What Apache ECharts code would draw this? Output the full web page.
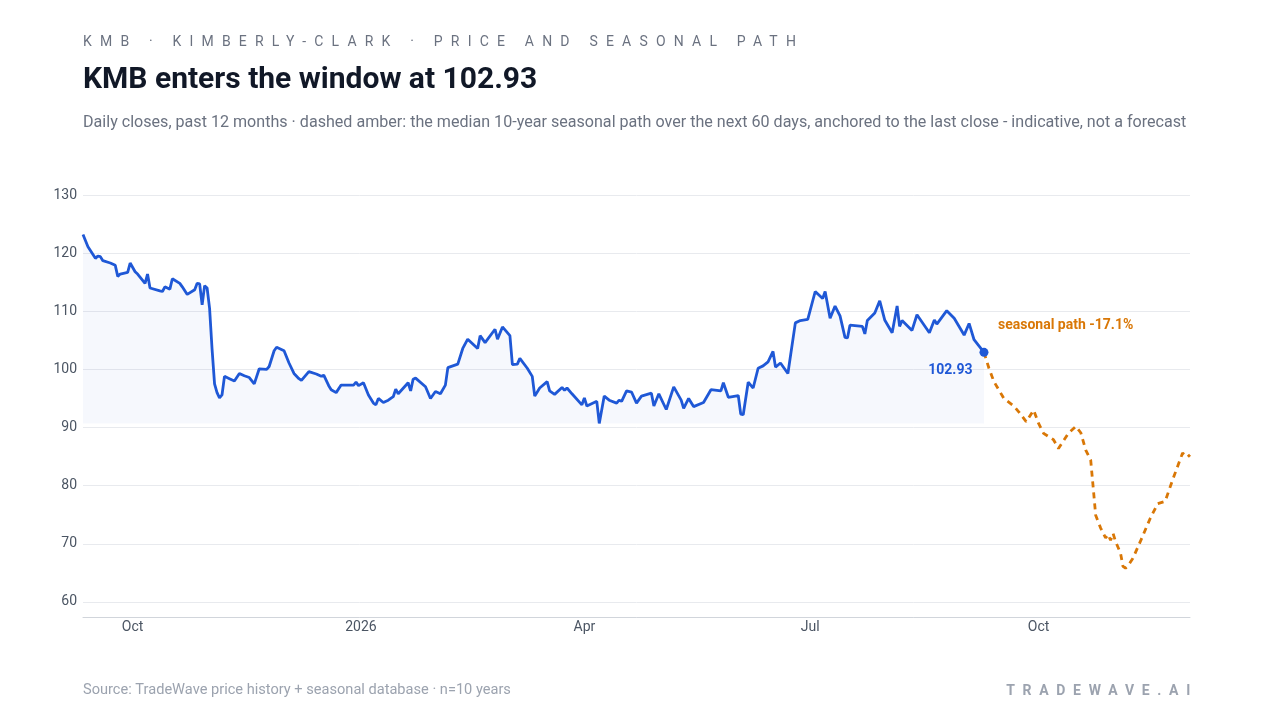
<!DOCTYPE html>
<html>
<head>
<meta charset="utf-8">
<title>KMB price and seasonal path</title>
<script src="https://cdn.jsdelivr.net/npm/echarts@6/dist/echarts.min.js"></script>
<style>
  html, body { margin: 0; padding: 0; background: #fff; }
  #wrap { position: relative; width: 1280px; height: 720px; }
  #chart { position: absolute; left: 0; top: 0; width: 1280px; height: 720px; }
  .spaced { position: absolute; font-family: Roboto, sans-serif; font-size: 14px; line-height: 14px;
            white-space: nowrap; }
  #kicker { left: 83px; top: 34px; color: #6b7280; letter-spacing: 8.2px; }
  #brand { right: 82px; top: 683px; color: #9ca3af; font-weight: 700; letter-spacing: 7.7px; }
</style>
</head>
<body>
<div id="wrap">
  <div id="chart"></div>
  <div id="kicker" class="spaced">KMB · KIMBERLY-CLARK · PRICE AND SEASONAL PATH</div>
  <div id="brand" class="spaced">TRADEWAVE.AI</div>
</div>
<script>
// ─── data ────────────────────────────────────────────────────────────────────
const priceDates = [
  '2025-09-11','2025-09-13','2025-09-16','2025-09-17','2025-09-18','2025-09-19','2025-09-22','2025-09-24',
  '2025-09-25','2025-09-26','2025-09-29','2025-09-30','2025-10-02','2025-10-03','2025-10-06','2025-10-07',
  '2025-10-08','2025-10-12','2025-10-13','2025-10-14','2025-10-16','2025-10-17','2025-10-20','2025-10-21',
  '2025-10-23','2025-10-26','2025-10-27','2025-10-28','2025-10-29','2025-10-30','2025-10-31','2025-11-01',
  '2025-11-02','2025-11-03','2025-11-04','2025-11-05','2025-11-06','2025-11-07','2025-11-09','2025-11-11',
  '2025-11-13','2025-11-15','2025-11-17','2025-11-19','2025-11-21','2025-11-24','2025-11-25','2025-11-27',
  '2025-11-28','2025-12-01','2025-12-03','2025-12-05','2025-12-07','2025-12-08','2025-12-11','2025-12-14',
  '2025-12-16','2025-12-17','2025-12-19','2025-12-20','2025-12-22','2025-12-24','2025-12-29','2025-12-30',
  '2025-12-31','2026-01-02','2026-01-04','2026-01-06','2026-01-07','2026-01-08','2026-01-10','2026-01-12',
  '2026-01-14','2026-01-15','2026-01-16','2026-01-20','2026-01-21','2026-01-22','2026-01-23','2026-01-27',
  '2026-01-29','2026-01-31','2026-02-02','2026-02-04','2026-02-05','2026-02-09','2026-02-11','2026-02-13',
  '2026-02-17','2026-02-18','2026-02-20','2026-02-24','2026-02-25','2026-02-27','2026-03-02','2026-03-03',
  '2026-03-05','2026-03-06','2026-03-09','2026-03-11','2026-03-12','2026-03-14','2026-03-17','2026-03-18',
  '2026-03-20','2026-03-23','2026-03-24','2026-03-25','2026-03-27','2026-03-31','2026-04-01','2026-04-02',
  '2026-04-06','2026-04-07','2026-04-09','2026-04-11','2026-04-14','2026-04-15','2026-04-16','2026-04-18',
  '2026-04-20','2026-04-22','2026-04-24','2026-04-28','2026-04-29','2026-05-01','2026-05-04','2026-05-07',
  '2026-05-10','2026-05-11','2026-05-13','2026-05-15','2026-05-19','2026-05-22','2026-05-26','2026-05-27',
  '2026-05-29','2026-06-02','2026-06-03','2026-06-04','2026-06-06','2026-06-07','2026-06-08','2026-06-10',
  '2026-06-12','2026-06-14','2026-06-16','2026-06-17','2026-06-19','2026-06-22','2026-06-25','2026-06-27',
  '2026-06-30','2026-07-03','2026-07-06','2026-07-07','2026-07-09','2026-07-11','2026-07-13','2026-07-15',
  '2026-07-16','2026-07-17','2026-07-22','2026-07-23','2026-07-24','2026-07-27','2026-07-29','2026-07-31',
  '2026-08-03','2026-08-05','2026-08-06','2026-08-07','2026-08-11','2026-08-13','2026-08-18','2026-08-20',
  '2026-08-21','2026-08-25','2026-08-28','2026-09-01','2026-09-03','2026-09-05','2026-09-09'
];
const priceCloses = [
  123.2, 121.1, 119.1, 119.5, 119.4, 118.7, 118.3, 117.9,
  116.0, 116.4, 116.7, 118.3, 116.8, 116.4, 114.8, 116.4,
  114.0, 113.5, 113.4, 114.2, 113.8, 115.6, 114.8, 114.2,
  112.9, 113.7, 114.8, 114.7, 111.1, 114.4, 114.0, 110.5,
  103.5, 97.5, 96.0, 95.1, 95.6, 98.8, 98.4, 98.0,
  99.3, 98.9, 98.6, 97.5, 100.1, 100.0, 100.5, 103.2,
  103.8, 103.2, 101.1, 99.3, 98.4, 98.1, 99.6, 99.2,
  98.8, 99.0, 97.2, 96.5, 96.0, 97.3, 97.3, 97.8,
  97.2, 97.7, 95.6, 94.2, 93.9, 95.0, 94.3, 94.7,
  95.3, 96.6, 95.8, 97.7, 96.3, 98.3, 98.5, 97.0,
  95.0, 96.2, 95.8, 97.3, 100.3, 100.9, 103.6, 105.2,
  103.6, 105.8, 104.6, 106.9, 105.2, 107.3, 105.8, 100.8,
  100.9, 101.9, 100.2, 98.8, 95.4, 96.8, 97.9, 96.3,
  95.7, 96.9, 96.4, 96.8, 95.8, 93.9, 95.1, 93.7,
  94.5, 90.7, 95.4, 94.7, 94.2, 94.7, 94.5, 96.3,
  96.1, 94.2, 95.4, 95.9, 93.7, 95.8, 93.1, 97.0,
  94.7, 93.3, 95.0, 93.6, 94.3, 96.5, 96.3, 97.7,
  95.2, 95.5, 92.3, 92.2, 97.8, 97.3, 96.8, 100.2,
  100.6, 101.3, 103.1, 100.4, 101.1, 99.3, 108.0, 108.4,
  108.6, 113.4, 112.2, 113.4, 108.8, 110.9, 109.2, 105.5,
  105.4, 107.6, 107.4, 106.1, 108.4, 109.7, 111.8, 108.5,
  106.3, 110.9, 107.4, 108.4, 106.7, 109.4, 106.3, 108.5,
  107.8, 110.1, 108.8, 105.9, 107.9, 105.1, 102.93
];
// median 10-year seasonal path, anchored to the last close
const pathDates = [
  '2026-09-09','2026-09-11','2026-09-13','2026-09-17','2026-09-21','2026-09-23','2026-09-26','2026-09-29',
  '2026-10-01','2026-10-03','2026-10-07','2026-10-09','2026-10-13','2026-10-16','2026-10-18','2026-10-20',
  '2026-10-22','2026-10-24','2026-10-26','2026-10-28','2026-10-29','2026-10-30','2026-10-31','2026-11-01',
  '2026-11-03','2026-11-04','2026-11-05','2026-11-06','2026-11-08','2026-11-11','2026-11-15','2026-11-18',
  '2026-11-21','2026-11-24','2026-11-28','2026-11-30','2026-12-01'
];
const pathValues = [
  102.93, 100.2, 97.9, 95.0, 93.7, 92.7, 91.0, 93.0,
  90.7, 89.0, 87.9, 86.4, 89.0, 90.2, 89.1, 86.1,
  84.4, 74.9, 72.7, 71.0, 71.6, 70.6, 71.8, 70.4,
  68.4, 66.1, 65.8, 66.2, 67.5, 70.4, 74.4, 76.9,
  77.3, 81.0, 85.6, 84.9, 85.33
];
const yTickMin = 57.4, yTickMax = 130;

// ─── derived bits ────────────────────────────────────────────────────────────
const BLUE = '#1f58d6', AMBER = '#d97706';
const DAY = 24 * 3600 * 1000;
const lastIdx = priceDates.length - 1;
const lastDate = priceDates[lastIdx], lastClose = priceCloses[lastIdx];
const pathPct = (pathValues[pathValues.length - 1] / lastClose - 1) * 100;
const MONTHS = ['Jan','Feb','Mar','Apr','May','Jun','Jul','Aug','Sep','Oct','Nov','Dec'];
const FONT = 'Roboto';

const chart = echarts.init(document.getElementById('chart'), null, { renderer: 'canvas' });
chart.setOption({
  animation: false,
  backgroundColor: '#fff',
  textStyle: { fontFamily: FONT },
  title: [
    { text: 'KMB enters the window at ' + lastClose.toFixed(2), left: 83, top: 65, padding: 0,
      textStyle: { fontFamily: FONT, fontSize: 30, fontWeight: 700, color: '#111827' } },
    { text: 'Daily closes, past 12 months · dashed amber: the median 10-year seasonal path over the next 60 days, anchored to the last close - indicative, not a forecast',
      left: 83, top: 115, padding: 0,
      textStyle: { fontFamily: FONT, fontSize: 16.1, fontWeight: 400, color: '#6b7280' } },
    { text: 'Source: TradeWave price history + seasonal database · n=10 years', left: 83, top: 683, padding: 0,
      textStyle: { fontFamily: FONT, fontSize: 14.6, fontWeight: 400, color: '#9ca3af' } },
  ],
  grid: { left: 83, right: 90, top: 195, bottom: 103, containLabel: false },
  xAxis: {
    type: 'time',
    min: priceDates[0], max: pathDates[pathDates.length - 1],
    splitNumber: 4, minInterval: 92 * DAY, maxInterval: 120 * DAY,
    axisLine: { lineStyle: { color: '#d1d5db', width: 1 } },
    axisTick: { show: false },
    splitLine: { show: false },
    axisLabel: {
      color: '#4b5563', fontSize: 14, margin: 3, showMinLabel: false, showMaxLabel: false,
      formatter: (v) => { const d = new Date(v); return d.getMonth() === 0 ? String(d.getFullYear()) : MONTHS[d.getMonth()]; },
    },
  },
  yAxis: {
    type: 'value', min: yTickMin, max: yTickMax, splitNumber: 7,
    axisLine: { show: false }, axisTick: { show: false },
    splitLine: { lineStyle: { color: '#e8eaee', width: 1 } },
    axisLabel: { color: '#4b5563', fontSize: 14, margin: 6, showMinLabel: false, padding: [2, 0, 0, 0] },
  },
  series: [
    {
      name: 'KMB', type: 'line', z: 3,
      data: priceDates.map((d, i) => [d, priceCloses[i]]),
      showSymbol: false, symbol: 'none',
      lineStyle: { color: BLUE, width: 2.8 },
      areaStyle: { color: 'rgba(37, 88, 214, 0.06)', origin: Math.min(...priceCloses) },
    },
    {
      name: 'Seasonal path', type: 'line', z: 2,
      data: pathDates.map((d, i) => [d, pathValues[i]]),
      showSymbol: false, symbol: 'none',
      lineStyle: { color: AMBER, width: 2.8, type: [6, 5] },
      markPoint: {
        symbol: 'circle', symbolSize: 0, silent: true,
        data: [{ coord: [lastDate, lastClose] }],
        label: {
          show: true, position: 'right', offset: [9, -27],
          formatter: 'seasonal path ' + pathPct.toFixed(1) + '%',
          color: AMBER, fontSize: 14, fontWeight: 700, fontFamily: FONT,
        },
      },
    },
    {
      name: 'Last close', type: 'scatter', z: 4,
      data: [[lastDate, lastClose]],
      symbol: 'circle', symbolSize: 9,
      itemStyle: { color: BLUE, opacity: 1 },
      label: {
        show: true, position: 'left', distance: 7, offset: [0, 18],
        formatter: lastClose.toFixed(2),
        color: BLUE, fontSize: 14, fontWeight: 700, fontFamily: FONT,
      },
    },
  ],
});
</script>
</body>
</html>
